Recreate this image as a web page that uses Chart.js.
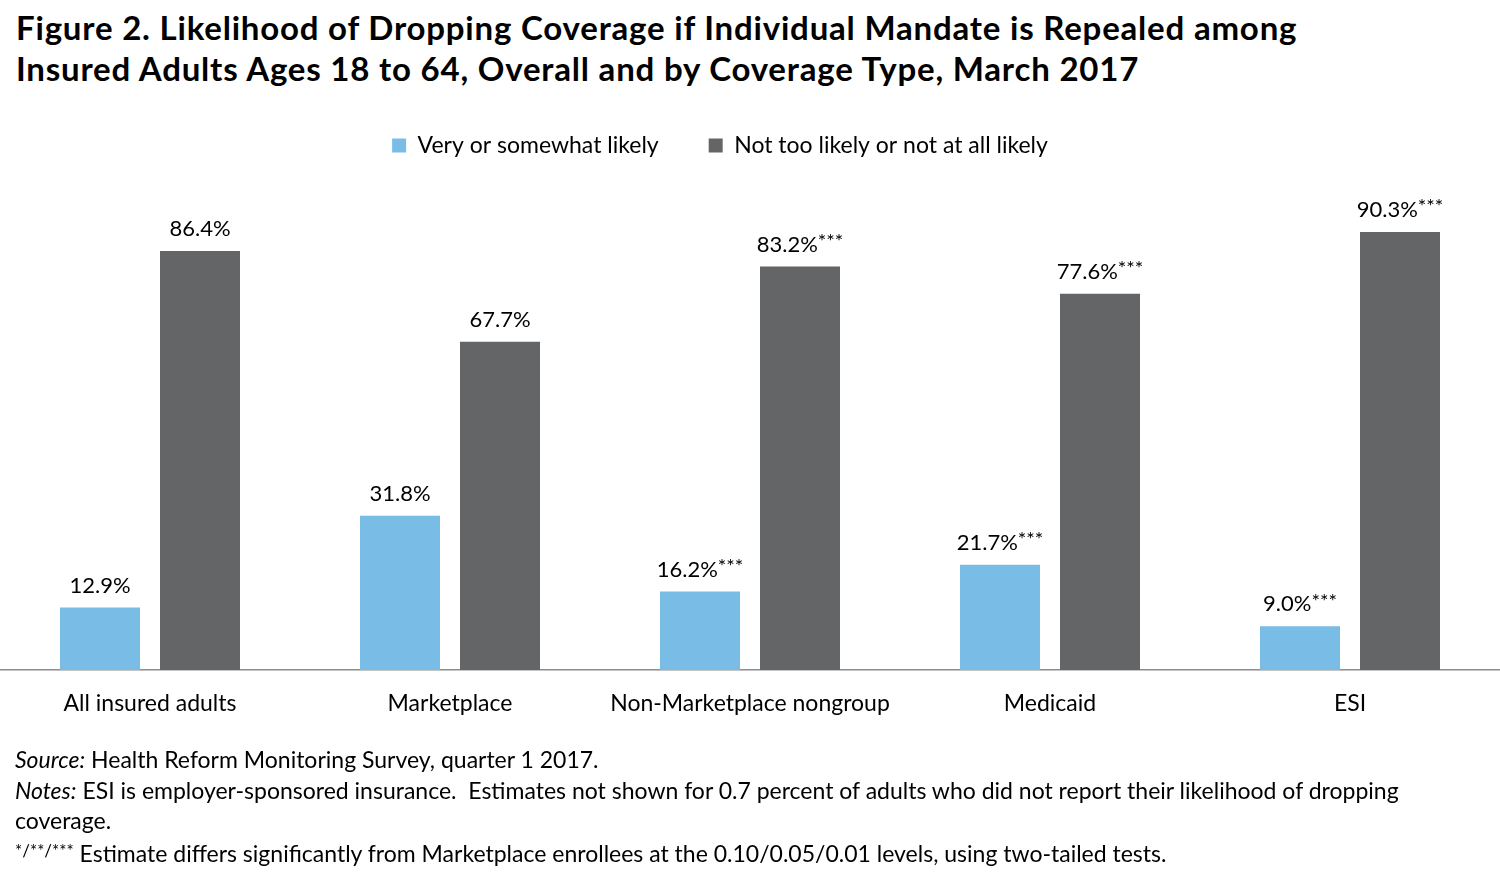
<!DOCTYPE html>
<html lang="en">
<head>
    <meta charset="UTF-8">
    <title>Figure 2. Likelihood of Dropping Coverage</title>
    <script src="https://cdn.jsdelivr.net/npm/chart.js"></script>
    <style>
        body {
            margin: 0;
            padding: 0;
            width: 1500px;
            height: 885px;
            position: relative;
            background: #fff;
            font-family: Lato, "Open Sans", sans-serif;
            color: #000;
            overflow: hidden;
        }
        #title {
            position: absolute;
            left: 16px;
            top: 7px;
            font-size: 33px;
            letter-spacing: 0.8px;
            font-weight: bold;
            line-height: 41px;
            margin: 0;
            white-space: nowrap;
        }
        #chartWrap {
            position: absolute;
            left: 0;
            top: 0;
            width: 1500px;
            height: 885px;
        }
        #notes {
            position: absolute;
            left: 15px;
            top: 744px;
            font-size: 23px;
            line-height: 30.5px;
            width: 1440px;
        }
        #notes p { margin: 0; }
        .sup { font-size: 17px; vertical-align: 5px; }
    </style>
</head>
<body>
    <h1 id="title">Figure 2. Likelihood of Dropping Coverage if Individual Mandate is Repealed among<br>Insured Adults Ages 18 to 64, Overall and by Coverage Type, March 2017</h1>
    <div id="chartWrap"><canvas id="chart" width="1500" height="885"></canvas></div>
    <div id="notes">
        <p><i>Source:</i> Health Reform Monitoring Survey, quarter 1 2017.</p>
        <p><i>Notes:</i> ESI is employer-sponsored insurance.&nbsp; Estimates not shown for 0.7 percent of adults who did not report their likelihood of dropping coverage.</p>
        <p><span class="sup">*/**/***</span> Estimate differs significantly from Marketplace enrollees at the 0.10/0.05/0.01 levels, using two-tailed tests.</p>
    </div>

    <script>
        // du lieu
        const categories = ['All insured adults', 'Marketplace', 'Non-Marketplace nongroup', 'Medicaid', 'ESI'];
        const likelyValues = [12.9, 31.8, 16.2, 21.7, 9.0];
        const notLikelyValues = [86.4, 67.7, 83.2, 77.6, 90.3];
        const likelyStars = ['', '', '***', '***', '***'];
        const notLikelyStars = ['', '', '***', '***', '***'];
        const starsBySeries = [likelyStars, notLikelyStars];

        const FONT = 'Lato, "Open Sans", sans-serif';

        // ve nhan gia tri + dau sao nho
        const valueLabels = {
            id: 'valueLabels',
            afterDatasetsDraw(chart) {
                const ctx = chart.ctx;
                ctx.save();
                ctx.fillStyle = '#000';
                ctx.textBaseline = 'middle';
                chart.data.datasets.forEach((ds, di) => {
                    const meta = chart.getDatasetMeta(di);
                    meta.data.forEach((bar, i) => {
                        const main = ds.data[i].toFixed(1) + '%';
                        const stars = starsBySeries[di][i];
                        ctx.font = '22px ' + FONT;
                        const w1 = ctx.measureText(main).width;
                        ctx.font = '20px ' + FONT;
                        const w2 = stars ? ctx.measureText(stars).width : 0;
                        const x0 = bar.x - (w1 + w2) / 2;
                        const y = bar.y - 22;
                        ctx.textAlign = 'left';
                        ctx.font = '22px ' + FONT;
                        ctx.fillText(main, x0, y);
                        if (stars) {
                            ctx.font = '20px ' + FONT;
                            ctx.fillText(stars, x0 + w1, y - 3);
                        }
                    });
                });
                ctx.restore();
            }
        };

        // co dinh chieu cao legend de vung ve bat dau o y=185, lech trai mot chut
        const legendHeight = {
            id: 'legendHeight',
            beforeInit(chart) {
                const fit = chart.legend.fit;
                chart.legend.fit = function () {
                    fit.bind(chart.legend)();
                    this.height = 101;
                };
                const draw = chart.legend.draw;
                chart.legend.draw = function () {
                    chart.ctx.save();
                    chart.ctx.translate(-30, 0);
                    draw.call(this);
                    chart.ctx.restore();
                };
            }
        };

        new Chart(document.getElementById('chart').getContext('2d'), {
            type: 'bar',
            data: {
                labels: categories,
                datasets: [
                    {
                        label: 'Very or somewhat likely',
                        data: likelyValues,
                        backgroundColor: '#79bde6',
                        categoryPercentage: 0.6667,
                        barPercentage: 0.8
                    },
                    {
                        label: 'Not too likely or not at all likely',
                        data: notLikelyValues,
                        backgroundColor: '#646567',
                        categoryPercentage: 0.6667,
                        barPercentage: 0.8
                    }
                ]
            },
            options: {
                responsive: false,
                animation: false,
                layout: { padding: { top: 84, bottom: 155, left: 0, right: 0 } },
                plugins: {
                    title: { display: false },
                    tooltip: { enabled: false },
                    legend: {
                        position: 'top',
                        labels: {
                            color: '#000',
                            font: { family: FONT, size: 23 },
                            boxWidth: 14,
                            boxHeight: 14,
                            padding: 50
                        }
                    }
                },
                scales: {
                    x: {
                        afterFit(scale) { scale.height = 60; },
                        grid: { display: false, drawTicks: false },
                        border: { display: true, color: '#8c8c8c', width: 1.5 },
                        ticks: {
                            color: '#000',
                            font: { family: FONT, size: 23 },
                            padding: 20
                        }
                    },
                    y: {
                        display: false,
                        min: 0,
                        max: 100
                    }
                }
            },
            plugins: [legendHeight, valueLabels]
        });
    </script>
</body>
</html>
